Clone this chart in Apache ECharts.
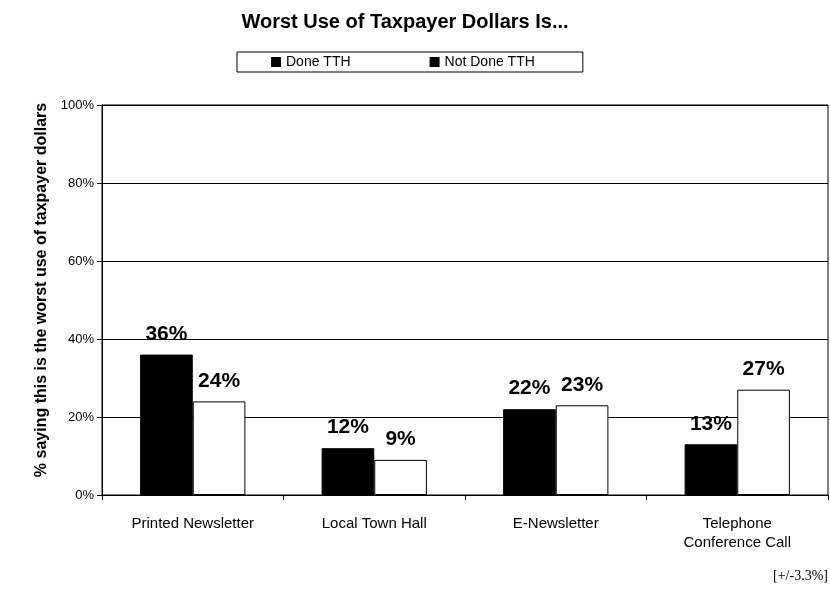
<!DOCTYPE html>
<html>
<head>
<meta charset="utf-8">
<script src="https://cdn.jsdelivr.net/npm/echarts@6/dist/echarts.min.js"></script>
<style>
  html, body { margin: 0; padding: 0; background: #fff; }
  #chart { width: 830px; height: 601px; }
</style>
</head>
<body>
<div id="chart"></div>
<script>
// Survey categories and shares (percent)
const categories = ['Printed Newsletter', 'Local Town Hall', 'E-Newsletter', 'Telephone\nConference Call'];
const doneTTH = [36, 12, 22, 13];
const notDoneTTH = [24, 9, 23, 27];
const yTicks = [0, 20, 40, 60, 80, 100];

const FONT = 'Arial, "Liberation Sans", Helvetica, sans-serif';

const chart = echarts.init(document.getElementById('chart'), null, { renderer: 'canvas' });

const labelStyle = {
  show: true,
  position: 'top',
  distance: 10,
  formatter: p => p.value + '%',
  fontFamily: FONT,
  fontWeight: 'bold',
  fontSize: 21,
  color: '#000'
};

chart.setOption({
  animation: false,
  backgroundColor: '#fff',
  title: {
    text: 'Worst Use of Taxpayer Dollars Is...',
    left: 400,
    textAlign: 'center',
    top: 7,
    textStyle: { fontFamily: FONT, fontWeight: 'bold', fontSize: 20, color: '#000' }
  },
  legend: {
    left: 237,
    top: 52,
    padding: [3, 48, 3, 34],
    itemGap: 79,
    itemWidth: 10,
    itemHeight: 10,
    borderColor: '#000',
    borderWidth: 1,
    borderRadius: 0,
    textStyle: { fontFamily: FONT, fontSize: 14, color: '#000' },
    data: [
      { name: 'Done TTH', icon: 'rect', itemStyle: { color: '#000', borderWidth: 0 } },
      { name: 'Not Done TTH', icon: 'rect', itemStyle: { color: '#000', borderWidth: 0 } }
    ]
  },
  grid: {
    left: 102,
    right: 2,
    top: 105,
    bottom: 106,
    show: true,
    borderColor: '#000',
    borderWidth: 1
  },
  xAxis: {
    type: 'category',
    data: categories,
    axisLine: { lineStyle: { color: '#000', width: 1 } },
    axisTick: { show: true, length: 5, lineStyle: { color: '#000' } },
    axisLabel: {
      color: '#000',
      fontFamily: FONT,
      fontSize: 15,
      margin: 19,
      lineHeight: 19,
      interval: 0
    }
  },
  yAxis: {
    type: 'value',
    min: 0,
    max: 100,
    interval: 20,
    name: '% saying this is the worst use of taxpayer dollars',
    nameLocation: 'middle',
    nameRotate: 90,
    nameGap: 47,
    nameTextStyle: {
      fontFamily: FONT,
      fontWeight: 'bold',
      fontSize: 16,
      color: '#000',
      padding: [0, 0, 0, 20]
    },
    axisLine: { show: true, lineStyle: { color: '#000', width: 1 } },
    axisTick: { show: true, length: 5, inside: false, lineStyle: { color: '#000' } },
    axisLabel: {
      color: '#000',
      fontFamily: FONT,
      fontSize: 13,
      margin: 8,
      formatter: v => (yTicks.includes(v) ? v + '%' : '')
    },
    splitLine: { show: true, lineStyle: { color: '#000', width: 1 } }
  },
  series: [
    {
      name: 'Done TTH',
      type: 'bar',
      data: doneTTH,
      barGap: '0%',
      barCategoryGap: '42%',
      itemStyle: { color: '#000', borderColor: '#000', borderWidth: 1 },
      label: labelStyle
    },
    {
      name: 'Not Done TTH',
      type: 'bar',
      data: notDoneTTH,
      barGap: '0%',
      barCategoryGap: '42%',
      itemStyle: { color: '#fff', borderColor: '#000', borderWidth: 1 },
      label: labelStyle
    }
  ],
  graphic: [
    {
      type: 'text',
      right: 2,
      top: 569,
      style: {
        text: '[+/-3.3%]',
        font: '14px "Liberation Serif", "Times New Roman", serif',
        fill: '#000'
      }
    }
  ]
});
</script>
</body>
</html>
